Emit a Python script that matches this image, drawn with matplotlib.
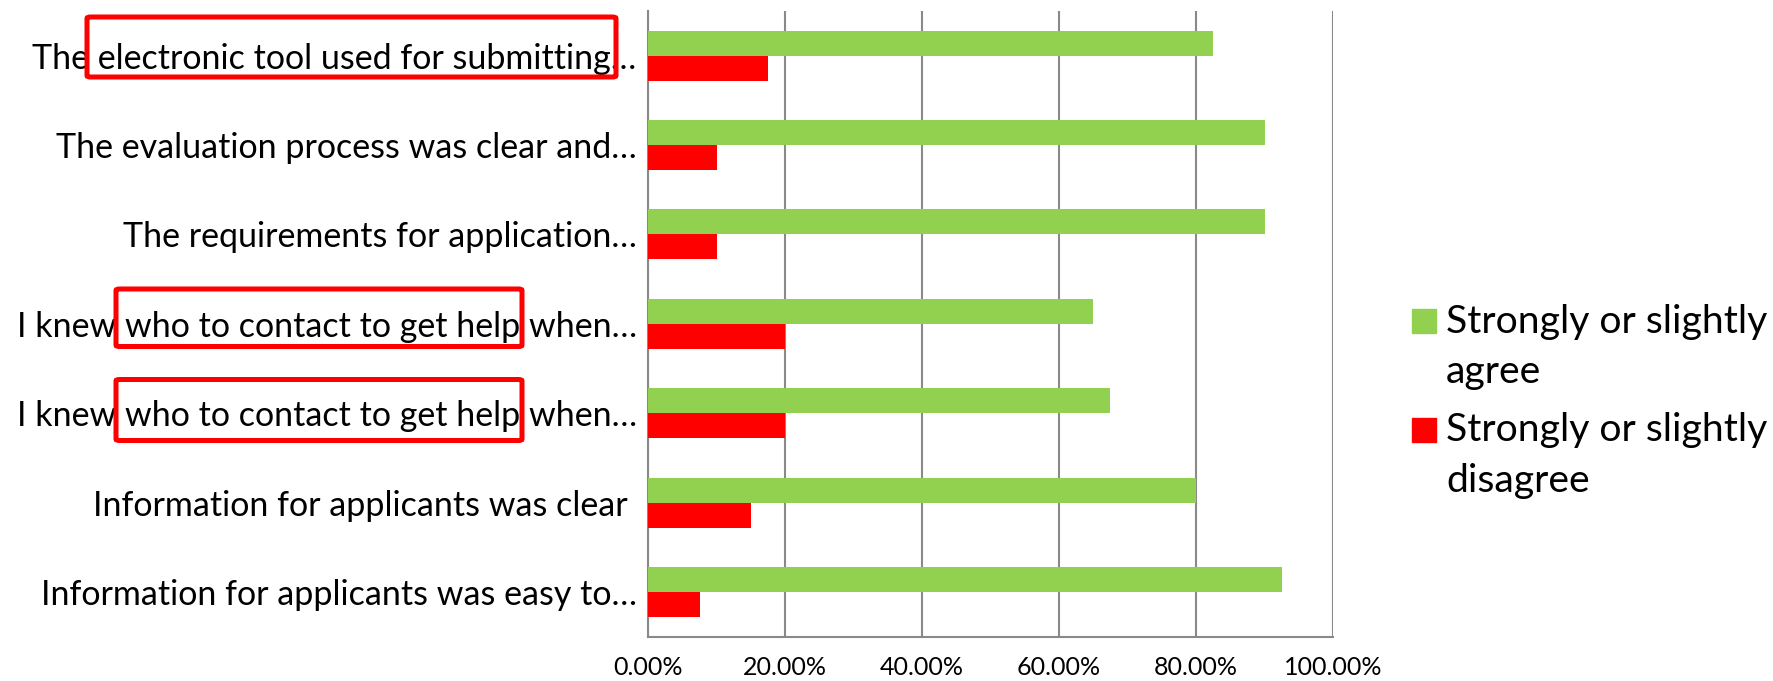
import matplotlib
matplotlib.use("Agg")
import matplotlib.pyplot as plt
from matplotlib.patches import FancyBboxPatch, Rectangle
import numpy as np

# Data (listed top to bottom as shown)
categories = [
    "The electronic tool used for submitting…",
    "The evaluation process was clear and…",
    "The requirements for application…",
    "I knew who to contact to get help when…",
    "I knew who to contact to get help when…",
    "Information for applicants was clear ",
    "Information for applicants was easy to…",
]
agree = [82.5, 90.0, 90.0, 65.0, 67.5, 80.0, 92.5]
disagree = [17.5, 10.0, 10.0, 20.0, 20.0, 15.0, 7.5]
series_lines = [["Strongly or slightly", "agree"], ["Strongly or slightly", "disagree"]]
xticks = [0, 20, 40, 60, 80, 100]
xtick_labels = ["0.00%", "20.00%", "40.00%", "60.00%", "80.00%", "100.00%"]

GREEN = "#92d050"
RED = "#ff0000"
GRID = "#898989"
FONT = ["Lato", "DejaVu Sans"]
plt.rcParams['font.family'] = FONT

W, H = 1773, 681
fig = plt.figure(figsize=(W / 100, H / 100), dpi=100)
x0p, x1p, y0p, y1p = 648.3, 1333.0, 11.0, 636.7
ax = fig.add_axes([x0p / W, 1 - y1p / H, (x1p - x0p) / W, (y1p - y0p) / H])

n = len(categories)
y = np.arange(n)[::-1]  # first category at top
bh = 0.28
ax.barh(y + bh / 2, agree, height=bh, color=GREEN, zorder=3)
ax.barh(y - bh / 2, disagree, height=bh, color=RED, zorder=3)

ax.set_xlim(0, 100)
ax.set_ylim(-0.5, n - 0.5)
ax.set_yticks(y)
ax.set_yticklabels(categories, fontsize=24.5)
ax.set_xticks(xticks)
ax.set_xticklabels(xtick_labels, fontsize=18)
ax.tick_params(axis='both', length=0)
ax.tick_params(axis='y', pad=8.4)
ax.tick_params(axis='x', pad=14)
ax.grid(axis='x', color=GRID, linewidth=1.5, zorder=0)
for s in ['top', 'right']:
    ax.spines[s].set_visible(False)
for s in ['left', 'bottom']:
    ax.spines[s].set_color(GRID)
    ax.spines[s].set_linewidth(1.5)


def fig_rect(x0, y0, x1, y1, **kw):
    # pixel coords (top-left origin) -> figure fraction
    return FancyBboxPatch((x0 / W, 1 - y1 / H), (x1 - x0) / W, (y1 - y0) / H,
                          boxstyle="round,pad=0,rounding_size=0.002",
                          transform=fig.transFigure, **kw)

# Highlight boxes
for (bx0, by0, bx1, by1) in [(87, 17, 616, 77), (116, 289, 522, 346.5), (116, 379.5, 522, 440.5)]:
    fig.add_artist(fig_rect(bx0, by0, bx1, by1, fill=False, edgecolor=RED,
                            linewidth=3.6, zorder=10))

# Legend (manual, Excel-style: square aligned with first line)
legend_rows = [
    (GREEN, 309, [332.7, 383.3], series_lines[0]),
    (RED, 418, [440.7, 491.7], series_lines[1]),
]
for col, sq_top, baselines, lines in legend_rows:
    fig.add_artist(Rectangle((1412 / W, 1 - (sq_top + 24) / H), 24 / W, 24 / H,
                             transform=fig.transFigure, color=col))
    for bl, txt in zip(baselines, lines):
        fig.text(1446 / W, 1 - bl / H, txt, fontsize=28.2, va='baseline', ha='left')

fig.savefig("out.png", dpi=100)
